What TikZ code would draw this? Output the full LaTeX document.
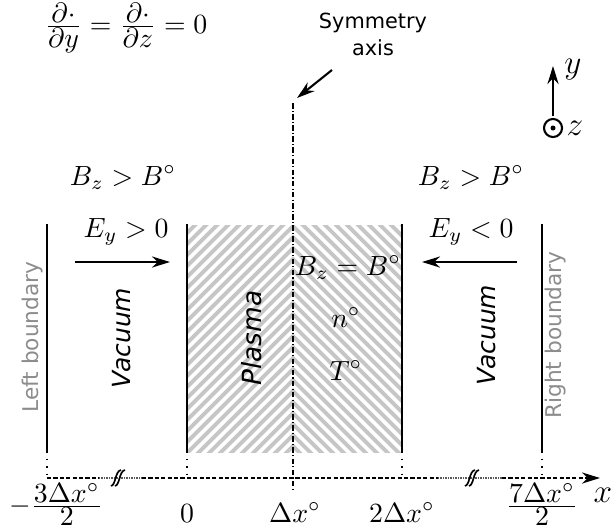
\documentclass[tikz,border=0pt]{standalone}
\usepackage{fontspec}
\setsansfont{DejaVu Sans}
\usetikzlibrary{positioning,arrows.meta}
\tikzset{>={Stealth[length=6.5pt,width=4pt]}}

\begin{document}
\begin{tikzpicture}[
    x=0.36pt, y=-0.36pt,
    wall/.style={line width=0.75pt},
    guide/.style={line width=0.7pt, dotted},
    hatch/.style={draw=gray!45, line width=1.4pt},
    xaxis/.style={line width=0.75pt, dash pattern=on 1.5pt off 0.8pt},
    fineaxis/.style={line width=0.9pt, black!65, dash pattern=on 0.3pt off 0.3pt},
    symaxis/.style={line width=0.6pt, dash pattern=on 2pt off 0.8pt on 0.4pt off 0.8pt},
    breakmark/.style={line width=0.6pt},
    region/.style={font=\sffamily\itshape\fontsize{9}{11}\selectfont, rotate=90},
    bndlabel/.style={font=\sffamily\fontsize{7.8}{9}\selectfont, text=black!45, rotate=90},
    ticklabel/.style={anchor=base}
]
\useasboundingbox (0,0) rectangle (615,529);

% hatched plasma slab
\begin{scope}
  \clip (187,225) rectangle (402,452);
  \foreach \k in {116,127,...,460}
    \draw[hatch] (180,\k+113) -- (293,\k) -- (410,\k+117);
\end{scope}

% walls and their drop lines to the axis
\foreach \wx in {47,187,402,542} {
  \draw[wall] (\wx,224) -- (\wx,451);
  \draw[guide] (\wx,451) -- (\wx,478);
}

% x axis with breaks
\draw[xaxis] (47,478) -- (99,478);
\draw[fineaxis] (99,478) -- (142,478);
\draw[xaxis] (142,478) -- (438,478);
\draw[fineaxis] (438,478) -- (502,478);
\draw[xaxis,->] (502,478) -- (600,478);
\foreach \bx in {117,471} {
  \draw[breakmark] (\bx-6,486) .. controls (\bx-1,485) and (\bx-2,471) .. (\bx+4,470);
  \draw[breakmark] (\bx-2,486) .. controls (\bx+3,485) and (\bx+2,471) .. (\bx+8,470);
}

% symmetry axis
\draw[symaxis] (293,103) -- (293,490);
\node[font=\sffamily\fontsize{7.5}{9.7}\selectfont, align=center] (symlabel) at (373,34) {Symmetry\\axis};
\coordinate (symtail) at (332,70);
\coordinate (symtip) at (297,98);
\draw[->, line width=0.75pt] (symtail) -- (symtip);

% coordinate triad
\node[circle, draw, line width=0.75pt, minimum size=6.5pt, inner sep=0pt] (zdir) at (553,128) {};
\fill (zdir) circle[radius=0.9pt];
\coordinate (ytip) at (553,66);
\draw[->, line width=0.75pt] (zdir) ++(0,-12) -- (ytip);
\node[font=\large] (ylabel) at (573,70) {$y$};
\node[font=\large] (zlabel) at (575,128) {$z$};

% top formula
\node[ticklabel] (invariance) at (126,33) {$\frac{\textstyle\partial\cdot}{\textstyle\partial y} = \frac{\textstyle\partial\cdot}{\textstyle\partial z} = 0$};

% fields
\node[ticklabel] (bleft) at (123,185) {$B_z > B^\circ$};
\node[ticklabel] (bright) at (471,185) {$B_z > B^\circ$};
\node[ticklabel] (eleft) at (126,237) {$E_y > 0$};
\node[ticklabel] (eright) at (471,237) {$E_y < 0$};
\coordinate (eltail) at (75,262);
\coordinate (elhead) at (170,262);
\coordinate (ertail) at (517,262);
\coordinate (erhead) at (422,262);
\draw[->, line width=0.75pt] (eltail) -- (elhead);
\draw[->, line width=0.75pt] (ertail) -- (erhead);

% plasma state
\node[ticklabel] (bplasma) at (348,275) {$B_z = B^\circ$};
\node[ticklabel] (nplasma) at (346,327) {$n^\circ$};
\node[ticklabel] (tplasma) at (346,380) {$T^\circ$};

% region names
\node[region] (vacleft) at (122,338) {Vacuum};
\node[region] (vacright) at (487,335) {Vacuum};
\node[region, font=\sffamily\itshape\fontsize{9.5}{11}\selectfont] (plasma) at (252,338) {Plasma};
\node[bndlabel] (leftbnd) at (33,337) {Left boundary};
\node[bndlabel] (rightbnd) at (556,335) {Right boundary};

% axis labels
\node[ticklabel] (xm) at (56,513) {$-\frac{\textstyle 3\Delta x^\circ}{\textstyle 2}$};
\node[ticklabel] (x0) at (187,522) {$0$};
\node[ticklabel] (x1) at (295,522) {$\Delta x^\circ$};
\node[ticklabel] (x2) at (402,522) {$2\Delta x^\circ$};
\node[ticklabel] (xp) at (542,513) {$\frac{\textstyle 7\Delta x^\circ}{\textstyle 2}$};
\node[font=\large] (xlabel) at (603,495) {$x$};
\end{tikzpicture}
\end{document}
